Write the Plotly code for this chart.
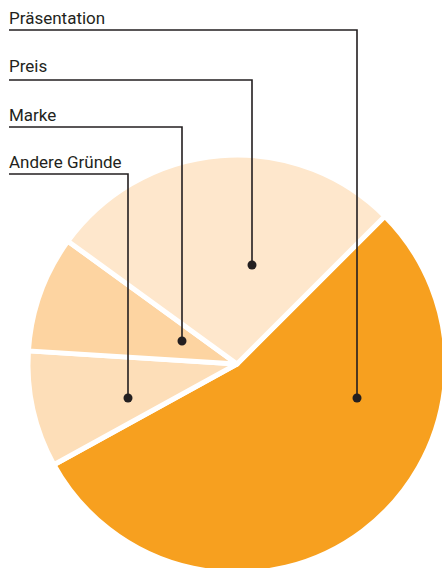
import plotly.graph_objects as go

# Figure is slightly larger than the 442x568 window so the pie is clipped
# at the right and bottom edges like the reference.
W, H = 460, 590

# Data
labels = ["Präsentation", "Andere Gründe", "Marke", "Preis"]
values = [54.5, 9.0, 9.0, 27.5]
colors = ["#F7A01F", "#FDDEB8", "#FDD4A1", "#FEE7CC"]

# Callout layout (pixel positions of label lines and dots), keyed by label
callout_order = ["Präsentation", "Preis", "Marke", "Andere Gründe"]
label_text_y = [18, 66, 115, 162]
label_line_y = [30, 80, 127, 174]
dot_x = [357, 252, 182, 128]
dot_y = [398, 265, 341, 398]


def px(x):
    return x / W


def py(y):
    return 1 - y / H


fig = go.Figure()
fig.add_trace(go.Pie(
    labels=labels,
    values=values,
    sort=False,
    direction="clockwise",
    rotation=45,
    marker=dict(colors=colors, line=dict(color="white", width=5)),
    textinfo="none",
    hoverinfo="label+percent",
    showlegend=False,
    domain=dict(x=[px(28), px(446)], y=[py(573), py(155)]),
))

font = dict(family="Roboto, Liberation Sans, sans-serif",
            size=17, color="#231F20")
shapes = []
annotations = []
for name, ty, ly, dx, dy in zip(callout_order, label_text_y, label_line_y, dot_x, dot_y):
    annotations.append(dict(
        text=name, x=px(7), y=py(ty), xref="paper", yref="paper",
        xanchor="left", yanchor="middle", showarrow=False, font=font,
    ))
    shapes.append(dict(
        type="path", xref="paper", yref="paper",
        path=f"M {px(9)},{py(ly)} L {px(dx)},{py(ly)} L {px(dx)},{py(dy)}",
        line=dict(color="#231F20", width=1.6),
    ))
    shapes.append(dict(
        type="circle", xref="paper", yref="paper",
        xsizemode="pixel", ysizemode="pixel",
        xanchor=px(dx), yanchor=py(dy),
        x0=-4.5, x1=4.5, y0=-4.5, y1=4.5,
        fillcolor="#231F20", line=dict(width=0),
    ))

fig.update_layout(
    width=W, height=H,
    margin=dict(l=0, r=0, t=0, b=0),
    paper_bgcolor="white",
    plot_bgcolor="white",
    shapes=shapes,
    annotations=annotations,
)

fig.write_html(
    "out.html",
    config={"displayModeBar": False},
    post_script="document.body.style.margin='0';document.body.style.overflow='hidden';",
)
